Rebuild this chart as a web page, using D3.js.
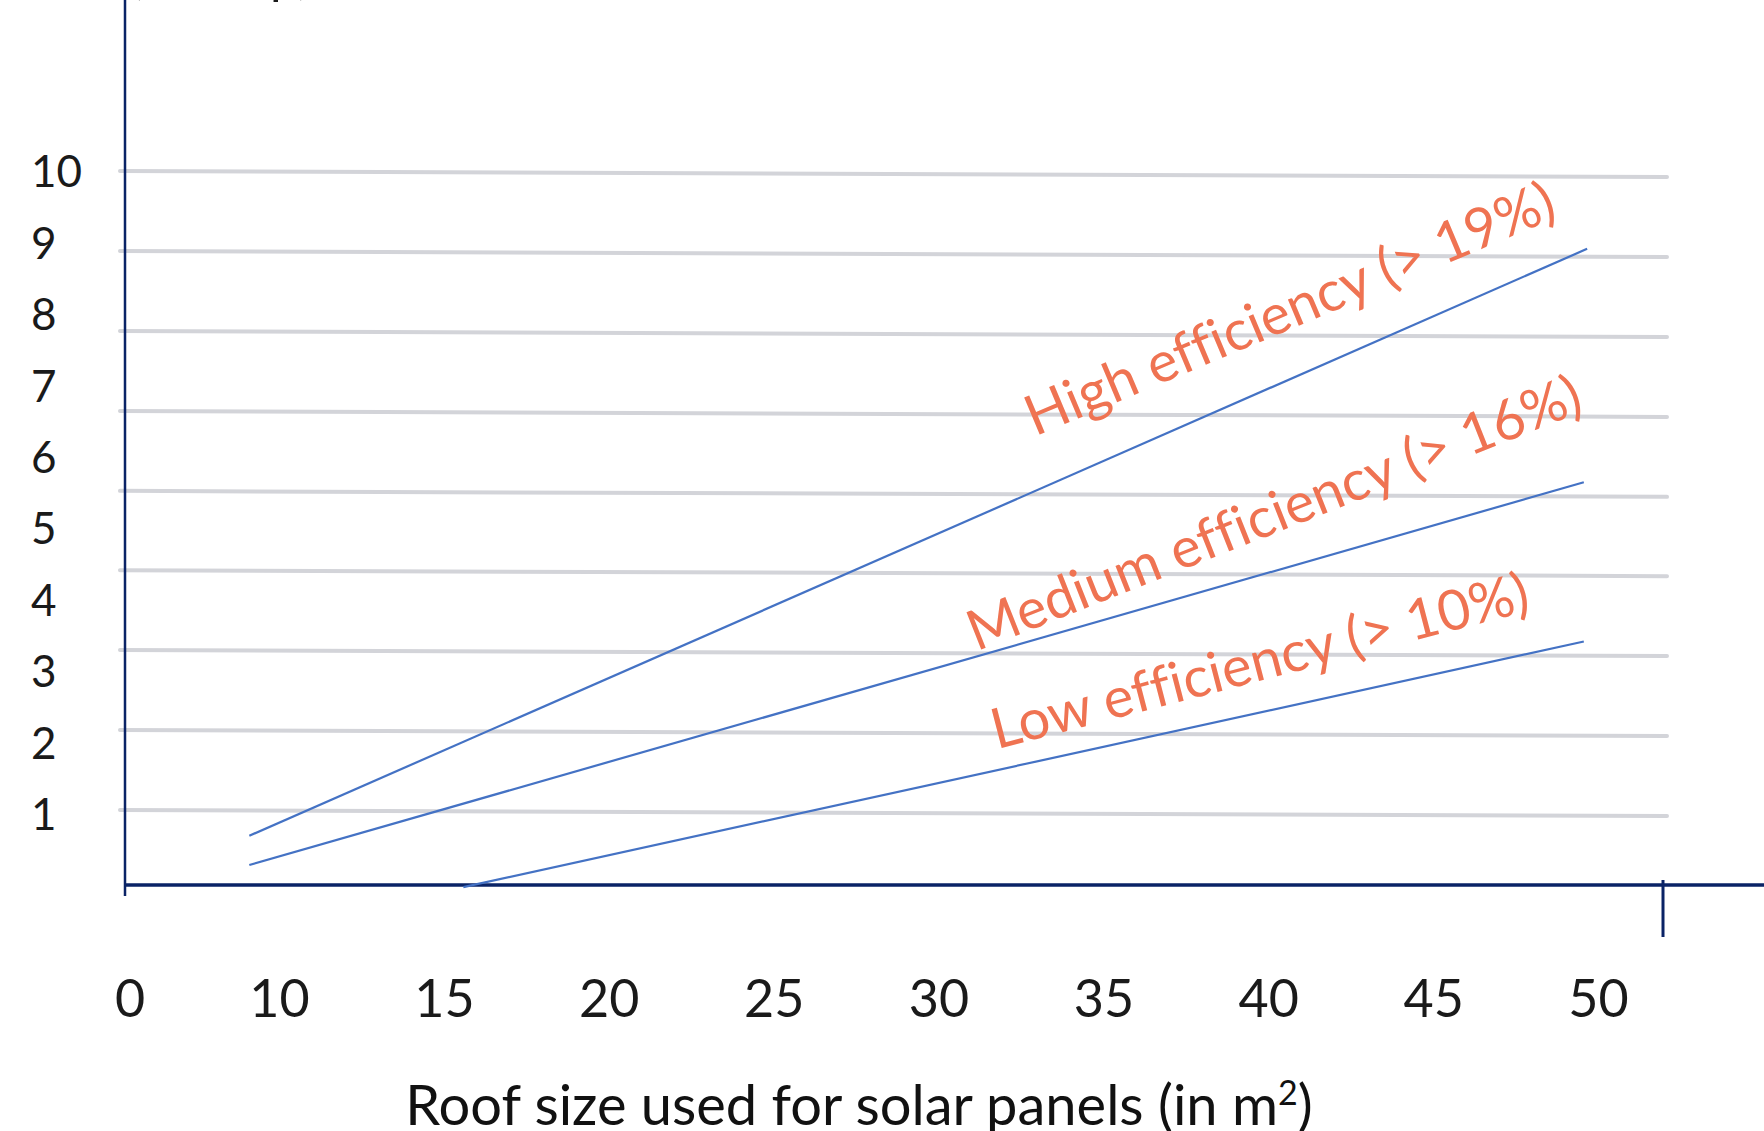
<!DOCTYPE html>
<html>
<head>
<meta charset="utf-8">
<script src="https://cdn.jsdelivr.net/npm/d3@7"></script>
<style>
  html, body { margin: 0; padding: 0; background: #ffffff; }
  svg { display: block; }
  text { font-family: Lato, "Noto Sans", sans-serif; font-variant-ligatures: none; }
</style>
</head>
<body>
<svg id="chart" width="1764" height="1131"></svg>
<script>
// ---------- data ----------
const xTickValues = [0, 10, 15, 20, 25, 30, 35, 40, 45, 50];
const yTickValues = [1, 2, 3, 4, 5, 6, 7, 8, 9, 10];
const gridValues = [10, 8.88, 7.76, 6.64, 5.52, 4.41, 3.29, 2.17, 1.05];

const seriesNames = ["High efficiency (> 19%)", "Medium efficiency (> 16%)", "Low efficiency (> 10%)"];
const highX = [9.1, 49.67];
const highY = [0.69, 8.91];
const mediumX = [9.1, 49.57];
const mediumY = [0.28, 5.64];
const lowX = [15.59, 49.57];
const lowY = [-0.03, 3.41];

// label anchors (data units) and angle for each series label
const labelX = [32.93, 31.15, 31.77];
const labelY = [6.28, 3.27, 1.90];
const labelAngle = [-22.8, -21.6, -14.6];

const yTitle = "(in kWp)";
const xTitle = "Roof size used for solar panels (in m";

// ---------- layout ----------
const W = 1764, H = 1131;
const originX = 125;
const svg = d3.select("#chart");

const x = d3.scaleLinear().domain([10, 50]).range([279, 1598]);
const y = d3.scaleLinear().domain([0, 10]).range([885, 171]);

const navy = "#0a2366";
const blue = "#4472c4";
const orange = "#ef7352";
const grid = "#d3d4d9";

// gridlines (slightly tilted, as in the original drawing)
const tilt = 6;
svg.append("g").selectAll("line")
  .data(gridValues)
  .join("line")
  .attr("x1", 120)
  .attr("x2", 1667)
  .attr("y1", d => y(d))
  .attr("y2", d => y(d) + tilt)
  .attr("stroke", grid)
  .attr("stroke-width", 4)
  .attr("stroke-linecap", "round");

// y axis line
svg.append("line")
  .attr("x1", originX).attr("x2", originX)
  .attr("y1", 0).attr("y2", y(0) + 11)
  .attr("stroke", navy).attr("stroke-width", 2.5);

// x axis line
svg.append("line")
  .attr("x1", originX - 1).attr("x2", W)
  .attr("y1", y(0)).attr("y2", y(0))
  .attr("stroke", navy).attr("stroke-width", 3.5);

// right end marker on x axis
svg.append("line")
  .attr("x1", 1663).attr("x2", 1663)
  .attr("y1", y(0) - 5).attr("y2", y(0) + 52)
  .attr("stroke", navy).attr("stroke-width", 3);

// y tick labels
const yAxisG = svg.append("g").attr("transform", "translate(31,0)")
  .call(d3.axisLeft(y).tickValues(yTickValues).tickSize(0).tickPadding(0).tickFormat(d3.format("d")));
yAxisG.select(".domain").remove();
yAxisG.selectAll("text")
  .attr("text-anchor", "start")
  .attr("x", 0)
  .attr("dy", "0.36em")
  .attr("fill", "#1a1a1a")
  .style("font-family", "Lato")
  .style("font-size", "44px");

// x tick labels
const xAxisG = svg.append("g").attr("transform", "translate(0,1017)")
  .call(d3.axisBottom(x).tickValues(xTickValues.filter(v => v !== 0)).tickSize(0).tickPadding(0).tickFormat(d3.format("d")));
xAxisG.select(".domain").remove();
xAxisG.selectAll("text")
  .attr("y", 0).attr("dy", 0)
  .attr("fill", "#1a1a1a")
  .style("font-family", "Lato")
  .style("font-size", "52px");
// the "0" label sits at the origin
svg.append("text")
  .attr("x", originX + 5).attr("y", 1017)
  .attr("text-anchor", "middle")
  .attr("fill", "#1a1a1a")
  .style("font-size", "52px")
  .text(xTickValues[0]);

// series lines
const series = [
  { xs: highX, ys: highY },
  { xs: mediumX, ys: mediumY },
  { xs: lowX, ys: lowY }
];
const lineGen = d3.line().x(d => x(d[0])).y(d => y(d[1]));
svg.append("g").selectAll("path")
  .data(series)
  .join("path")
  .attr("d", s => lineGen(d3.zip(s.xs, s.ys)))
  .attr("fill", "none")
  .attr("stroke", blue)
  .attr("stroke-width", 2.2);

// series labels
svg.append("g").selectAll("text")
  .data(seriesNames)
  .join("text")
  .attr("transform", (d, i) => `translate(${x(labelX[i])},${y(labelY[i])}) rotate(${labelAngle[i]})`)
  .attr("fill", orange)
  .style("font-size", "56px")
  .text(d => d);

// y title (cut off at top)
svg.append("text")
  .attr("x", 130).attr("y", -7)
  .attr("fill", "#1a1a1a")
  .style("font-size", "50px")
  .text(yTitle);

// x title
const xt = svg.append("text")
  .attr("x", 859).attr("y", 1125)
  .attr("text-anchor", "middle")
  .attr("fill", "#111111")
  .style("font-size", "56px");
xt.append("tspan").text(xTitle);
xt.append("tspan").attr("dy", -20).style("font-size", "34px").text("2");
xt.append("tspan").attr("dy", 20).text(")");
</script>
</body>
</html>
